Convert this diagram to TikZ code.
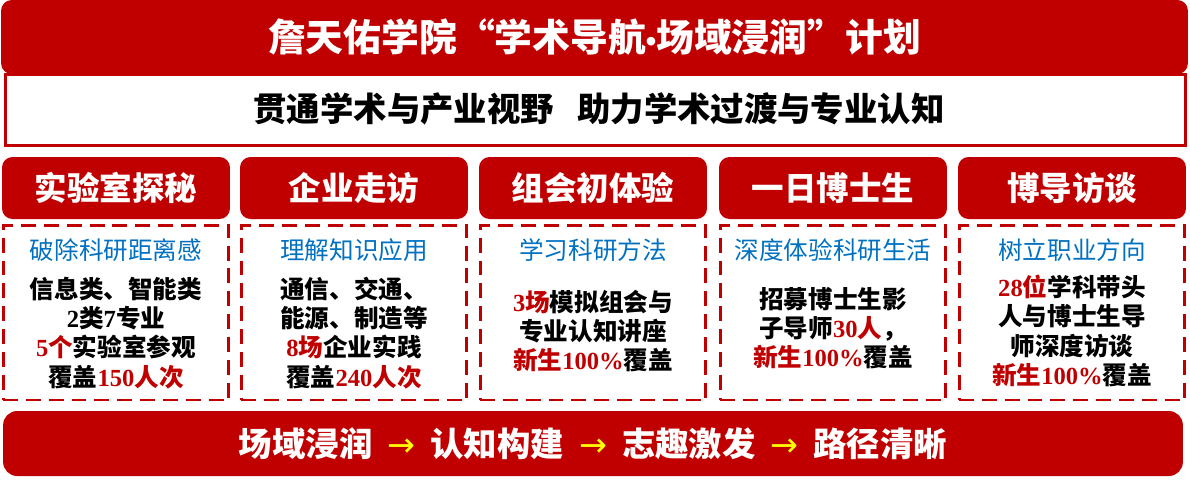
\documentclass[tikz,border=0pt]{standalone}
\usepackage{fontspec}
\setmainfont{Noto Sans CJK SC}
\newfontfamily\digitfont{Liberation Serif}
\newfontfamily\latinfont{Liberation Sans}
\newfontfamily\symfont{DejaVu Sans}
\definecolor{planred}{HTML}{C00000}
\definecolor{goalblue}{HTML}{0070C0}
\definecolor{stepyellow}{HTML}{FFFF00}
\newcommand{\dg}[1]{{\digitfont #1}}
\newcommand{\hl}[1]{\textcolor{planred}{#1}}
\newcommand{\ar}{\hspace{0.45em}\textcolor{stepyellow}{{\symfont\mdseries →}}\hspace{0.45em}}
\tikzset{
  titlebar/.style={fill=planred, rounded corners=6pt, text=white,
    font=\bfseries\fontsize{21.5}{24}\selectfont},
  subbar/.style={draw=planred, line width=1.7pt, fill=white,
    font=\bfseries\fontsize{19}{22}\selectfont},
  headbox/.style={fill=planred, rounded corners=6pt, text=white,
    minimum width=4.56cm, minimum height=1.24cm,
    font=\bfseries\fontsize{18.5}{22}\selectfont},
  dashbox/.style={draw=planred, line width=1.7pt, dash pattern=on 8.5pt off 4.5pt,
    minimum width=4.52cm, minimum height=3.5cm},
  goaltext/.style={text=goalblue, font=\fontsize{14}{16}\selectfont},
  bodytext/.style={align=center, font=\bfseries\fontsize{14}{16.6}\selectfont},
}
\begin{document}
\begin{tikzpicture}[x=0.02cm, y=-0.02cm]
    \useasboundingbox (0,0) rectangle (1190,485);
    % header
    \node [subbar, minimum width=23.62cm, minimum height=1.42cm] (aim) at (595.5,110) {};
    \node [titlebar, minimum width=23.74cm, minimum height=1.48cm] (title) at (594.5,37)
        {詹天佑学院“学术导航{\latinfont\fontsize{17}{20}\selectfont •}场域浸润”计划};
    \node [font=\bfseries\fontsize{19}{22}\selectfont] (aimtext) at (599,109)
        {贯通学术与产业视野\hspace{0.7em}助力学术过渡与专业认知};
    % five activities
    \node [headbox] (lab) at (116,188) {实验室探秘};
    \node [headbox] (firm) at (354,188) {企业走访};
    \node [headbox] (group) at (593,188) {组会初体验};
    \node [headbox] (phd) at (833,188) {一日博士生};
    \node [headbox] (tutor) at (1072,188) {博导访谈};
    \node [dashbox] (labbox) at (116,312.5) {};
    \node [dashbox] (firmbox) at (354,312.5) {};
    \node [dashbox] (groupbox) at (593,312.5) {};
    \node [dashbox] (phdbox) at (833,312.5) {};
    \node [dashbox] (tutorbox) at (1072,312.5) {};
    \node [goaltext] (labgoal) at (116,250) {破除科研距离感};
    \node [goaltext] (firmgoal) at (354,250) {理解知识应用};
    \node [goaltext] (groupgoal) at (593,250) {学习科研方法};
    \node [goaltext] (phdgoal) at (833,250) {深度体验科研生活};
    \node [goaltext] (tutorgoal) at (1072,250) {树立职业方向};
    \node [bodytext] (labtext) at (116,333)
        {信息类、智能类\\\dg{2}类\dg{7}专业\\\hl{\dg{5}个}实验室参观\\覆盖\hl{\dg{150}人次}};
    \node [bodytext] (firmtext) at (354,333)
        {通信、交通、\\能源、制造等\\\hl{\dg{8}场}企业实践\\覆盖\hl{\dg{240}人次}};
    \node [bodytext] (grouptext) at (593,331)
        {\hl{\dg{3}场}模拟组会与\\专业认知讲座\\\hl{新生\dg{100\%}}覆盖};
    \node [bodytext] (phdtext) at (833,328)
        {招募博士生影\\子导师\hl{\dg{30}人}，\\\hl{新生\dg{100\%}}覆盖};
    \node [bodytext] (tutortext) at (1072,331)
        {\hl{\dg{28}位}学科带头\\人与博士生导\\师深度访谈\\\hl{新生\dg{100\%}}覆盖};
    % outcome bar
    \node [titlebar, rounded corners=8pt, minimum width=23.6cm, minimum height=1.3cm,
        font=\bfseries\fontsize{19}{22}\selectfont] (path) at (593,443.5)
        {场域浸润\ar 认知构建\ar 志趣激发\ar 路径清晰};
\end{tikzpicture}
\end{document}
